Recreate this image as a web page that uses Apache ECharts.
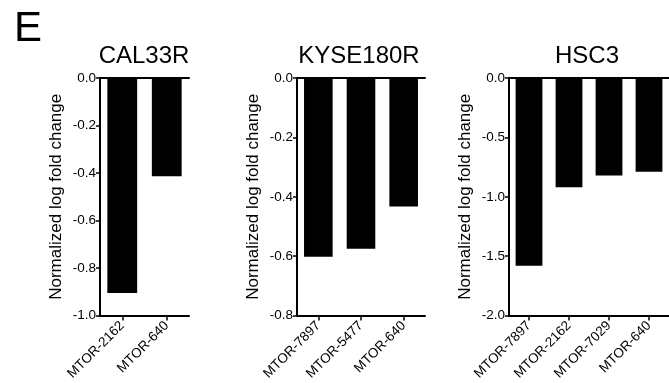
<!DOCTYPE html>
<html>
<head>
<meta charset="utf-8">
<script src="https://cdn.jsdelivr.net/npm/echarts@6/dist/echarts.min.js"></script>
<style>
  html, body { margin: 0; padding: 0; background: #fff; }
  #chart { width: 669px; height: 383px; }
</style>
</head>
<body>
<div id="chart"></div>
<script>
// panel titles
const panelTitles = ['CAL33R', 'KYSE180R', 'HSC3'];

// categories per panel
const cal33rCats = ['MTOR-2162', 'MTOR-640'];
const kyse180rCats = ['MTOR-7897', 'MTOR-5477', 'MTOR-640'];
const hsc3Cats = ['MTOR-7897', 'MTOR-2162', 'MTOR-7029', 'MTOR-640'];

// normalized log fold change values
const cal33rVals = [-0.905, -0.414];
const kyse180rVals = [-0.602, -0.575, -0.433];
const hsc3Vals = [-1.58, -0.92, -0.82, -0.79];

// y axis ranges: [min, max, step]
const yRanges = [[-1.0, 0, 0.2], [-0.8, 0, 0.2], [-2.0, 0, 0.5]];

const yName = 'Normalized log fold change';
const font = 'Liberation Sans, Arial, sans-serif';

const cats = [cal33rCats, kyse180rCats, hsc3Cats];
const vals = [cal33rVals, kyse180rVals, hsc3Vals];

// layout of each panel (pixels)
const grids = [
  { left: 100, top: 78, width: 89, height: 238 },
  { left: 297, top: 78, width: 128, height: 238 },
  { left: 509, top: 78, width: 164, height: 238 },
];
const titleCenters = [139, 354, 582];

const lineStyle = { color: '#000', width: 2 };

let option = {
  animation: false,
  backgroundColor: '#fff',
  title: [
    { text: 'E', left: 9, top: 3, textStyle: { fontFamily: font, fontSize: 42, fontWeight: 'normal', color: '#000' } },
  ].concat(panelTitles.map((t, i) => ({
    text: t,
    left: titleCenters[i],
    textAlign: 'center',
    top: 39,
    textStyle: { fontFamily: font, fontSize: 24, fontWeight: 'normal', color: '#000' },
  }))),
  grid: grids.map(g => Object.assign({ containLabel: false }, g)),
  xAxis: [],
  yAxis: [],
  series: [],
};

cats.forEach((c, i) => {
  option.xAxis.push({
    type: 'category',
    gridIndex: i,
    data: c,
    position: 'bottom',
    axisLine: { show: true, onZero: false, lineStyle: lineStyle },
    axisTick: { show: true, alignWithLabel: true, length: 5, lineStyle: { color: '#000', width: 1.5 } },
    axisLabel: { rotate: 45, margin: 8, fontFamily: font, fontSize: 13.5, color: '#000', interval: 0 },
    splitLine: { show: false },
  });
  option.xAxis.push({
    type: 'category',
    gridIndex: i,
    data: c,
    position: 'top',
    axisLine: { show: true, onZero: false, lineStyle: lineStyle },
    axisTick: { show: false },
    axisLabel: { show: false },
  });
  const r = yRanges[i];
  option.yAxis.push({
    type: 'value',
    gridIndex: i,
    min: r[0],
    max: r[1],
    interval: r[2],
    name: yName,
    nameLocation: 'middle',
    nameGap: 35,
    nameRotate: 90,
    nameTextStyle: { fontFamily: font, fontSize: 17, color: '#000' },
    axisLine: { show: true, lineStyle: lineStyle },
    axisTick: { show: true, length: 4, lineStyle: { color: '#000', width: 1.5 } },
    axisLabel: {
      fontFamily: font, fontSize: 13.5, color: '#000', margin: 4,
      formatter: v => v.toFixed(1),
    },
    splitLine: { show: false },
  });
  option.series.push({
    type: 'bar',
    xAxisIndex: i * 2,
    yAxisIndex: i,
    data: vals[i],
    barWidth: '67%',
    itemStyle: { color: '#000' },
  });
});

const chart = echarts.init(document.getElementById('chart'), null, { renderer: 'canvas' });
chart.setOption(option);
</script>
</body>
</html>
